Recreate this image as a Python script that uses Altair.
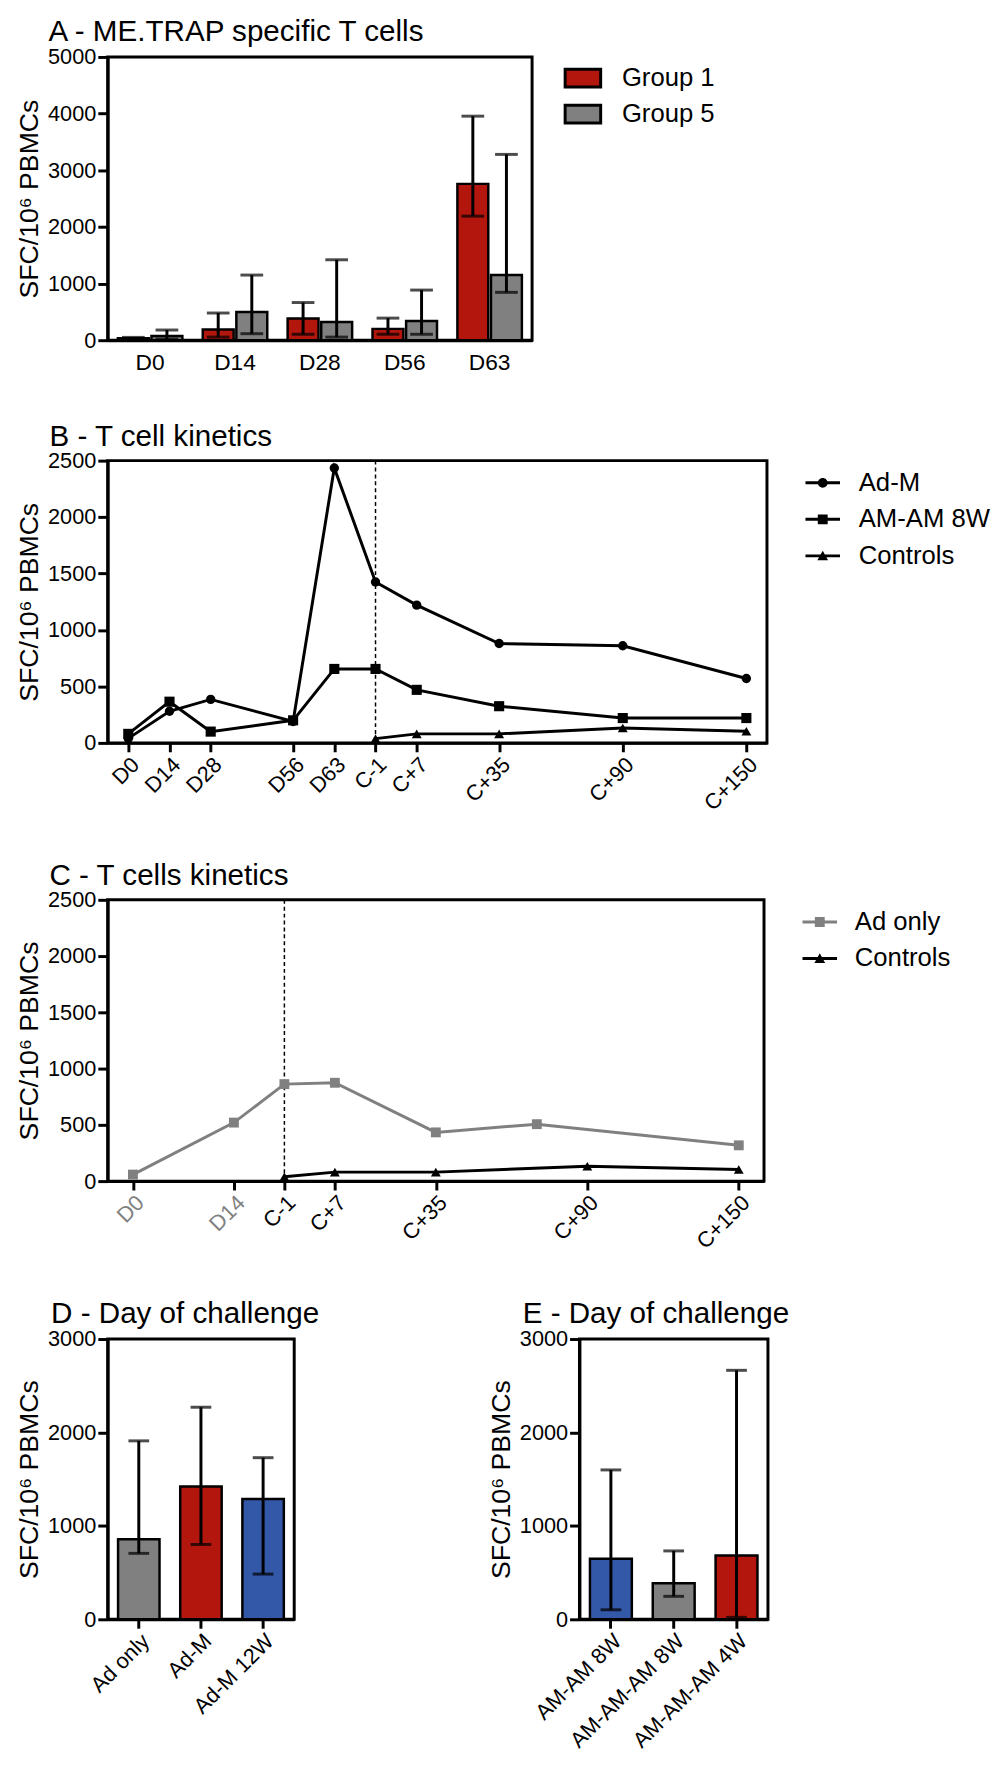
import json
import altair as alt
import pandas as pd

FONT = "Liberation Sans"
RED = "#B2160D"
GRAY = "#808080"
BLUE = "#3458A8"
BLACK = "#000000"
YTITLE = "SFC/10\u2076 PBMCs"

# ---------------- Panel A data ----------------
a_days = ["D0", "D14", "D28", "D56", "D63"]
a_groups = ["Group 1", "Group 5"]
a_g1_mean = [35, 190, 385, 200, 2760]
a_g1_low = [20, 55, 105, 105, 2190]
a_g1_high = [50, 480, 665, 390, 3955]
a_g5_mean = [75, 500, 320, 340, 1150]
a_g5_low = [20, 115, 55, 105, 845]
a_g5_high = [180, 1150, 1420, 885, 3280]
a_ticks = [0, 1000, 2000, 3000, 4000, 5000]

# ---------------- Panel B data ----------------
b_labels = ["D0", "D14", "D28", "D56", "D63", "C-1", "C+7", "C+35", "C+90", "C+150"]
b_slots = [0, 1, 2, 4, 5, 6, 7, 9, 12, 15]
b_series = ["Ad-M", "AM-AM 8W", "Controls"]
b_adm = [40, 280, 385, 190, 2435, 1425, 1220, 880, 860, 570]
b_amam = [80, 365, 100, 200, 655, 655, 470, 325, 220, 220]
b_ctrl_labels = ["C-1", "C+7", "C+35", "C+90", "C+150"]
b_ctrl = [38, 80, 80, 132, 104]
b_challenge = "C-1"

# ---------------- Panel C data ----------------
c_labels = ["D0", "D14", "C-1", "C+7", "C+35", "C+90", "C+150"]
c_slots = [0, 2, 3, 4, 6, 9, 12]
c_grey_labels = ["D0", "D14"]
c_series = ["Ad only", "Controls"]
c_adonly_slots = [0, 2, 3, 4, 6, 8, 12]
c_adonly = [58, 520, 862, 874, 433, 506, 318]
c_ctrl_labels = ["C-1", "C+7", "C+35", "C+90", "C+150"]
c_ctrl = [38, 80, 80, 132, 104]
c_challenge = "C-1"
kin_ticks = [0, 500, 1000, 1500, 2000, 2500]

# ---------------- Panel D / E data ----------------
d_groups = ["Ad only", "Ad-M", "Ad-M 12W"]
d_mean = [858, 1422, 1288]
d_low = [706, 801, 484]
d_high = [1910, 2270, 1730]
d_colors = [GRAY, RED, BLUE]

e_groups = ["AM-AM 8W", "AM-AM-AM 8W", "AM-AM-AM 4W"]
e_mean = [648, 387, 683]
e_low = [102, 246, 21]
e_high = [1599, 732, 2665]
e_colors = [BLUE, GRAY, RED]
de_ticks = [0, 1000, 2000, 3000]

# legend symbol paths (line with marker)
LINE = "M-1,-0.086L1,-0.086L1,0.086L-1,0.086Z"
P_CIRCLE = LINE + " M0.286,0A0.286,0.286,0,1,1,-0.286,0A0.286,0.286,0,1,1,0.286,0Z"
P_SQUARE = LINE + " M-0.286,-0.286L0.286,-0.286L0.286,0.286L-0.286,0.286Z"
P_TRI = LINE + " M0,-0.3L0.31,0.26L-0.31,0.26Z"

TITLE_SIZE = 30
LEG_SIZE = 26


def ttl(text, anchor, dx, offset):
    return alt.TitleParams(text, anchor=anchor, frame="group", dx=dx, offset=offset,
                           fontSize=TITLE_SIZE, font=FONT, fontWeight="normal", color=BLACK)


# ---------------- Panel A ----------------
rows = []
for i, d in enumerate(a_days):
    rows.append(dict(day=d, group=a_groups[0], mean=a_g1_mean[i], low=a_g1_low[i], high=a_g1_high[i]))
    rows.append(dict(day=d, group=a_groups[1], mean=a_g5_mean[i], low=a_g5_low[i], high=a_g5_high[i]))
df_a = pd.DataFrame(rows)

xa = alt.X("day:N", sort=a_days, title=None,
           scale=alt.Scale(paddingInner=0.24, paddingOuter=0.12),
           axis=alt.Axis(labelAngle=0, ticks=False, labelPadding=12, labelFontSize=23))
xoa = alt.XOffset("group:N", sort=a_groups, scale=alt.Scale(paddingInner=0.08))
ya_scale = alt.Scale(domain=[0, 5000], nice=False)
base_a = alt.Chart(df_a).encode(x=xa, xOffset=xoa)
bars_a = base_a.mark_bar(stroke=BLACK, strokeWidth=2.5).encode(
    y=alt.Y("mean:Q", scale=ya_scale, axis=alt.Axis(values=a_ticks, title=YTITLE, format="d")),
    color=alt.Color("group:N", sort=a_groups,
                    scale=alt.Scale(domain=a_groups, range=[RED, GRAY]),
                    legend=alt.Legend(title=None, orient="none", legendX=462, legendY=2, padding=0,
                                      symbolType="M-1,-0.5L1,-0.5L1,0.5L-1,0.5Z",
                                      symbolSize=1296, symbolStrokeColor=BLACK,
                                      symbolStrokeWidth=3, labelFontSize=LEG_SIZE,
                                      labelOffset=20, rowPadding=1.5)),
)
rule_a = base_a.mark_rule(color=BLACK, strokeWidth=3).encode(y=alt.Y("low:Q", scale=ya_scale), y2="high:Q")
caph_a = base_a.mark_tick(color=BLACK, size=23, thickness=3).encode(y=alt.Y("high:Q", scale=ya_scale))
capl_a = base_a.mark_tick(color=BLACK, size=23, thickness=3).encode(y=alt.Y("low:Q", scale=ya_scale))
chart_a = alt.layer(bars_a, rule_a, caph_a, capl_a).properties(
    width=430, height=287,
    title=ttl("A - ME.TRAP specific T cells", "start", -60, -1),
)


# ---------------- kinetics panels ----------------
def label_expr(labels, slots):
    arr = [""] * (max(slots) + 1)
    for s, l in zip(slots, labels):
        arr[s] = l
    return json.dumps(arr) + "[datum.value]"


def kinetics(df, series, colors, shapes, sizes, paths, labels, slots, dash_slot,
             width, height, title, label_color, leg_x, leg_y, label_offset):
    xmax = max(slots)
    x = alt.X("slot:Q", title=None,
              scale=alt.Scale(domain=[-0.5, xmax + 0.5], nice=False, zero=False),
              axis=alt.Axis(values=slots, labelExpr=label_expr(labels, slots), labelAngle=-45,
                            tickSize=9, labelFlush=False, labelOverlap=False, labelFontSize=22,
                            labelColor=label_color))
    y = alt.Y("value:Q", scale=alt.Scale(domain=[0, 2500], nice=False),
              axis=alt.Axis(values=kin_ticks, title=YTITLE, format="d"))
    layers = []
    dash = alt.Chart(pd.DataFrame({"slot": [dash_slot]})).mark_rule(
        color=BLACK, strokeWidth=1.5, strokeDash=[4, 3]).encode(x=x)
    layers.append(dash)
    for s, col, shp, sz in zip(series, colors, shapes, sizes):
        sub = alt.Chart(df).transform_filter(alt.datum.series == s)
        layers.append(sub.mark_line(color=col, strokeWidth=3).encode(x=x, y=y))
        layers.append(sub.mark_point(shape=shp, filled=True, size=sz, color=col, opacity=1).encode(x=x, y=y))
    leg = alt.Legend(title=None, orient="none", legendX=leg_x, legendY=leg_y, padding=0,
                     symbolSize=1225, symbolOpacity=1, symbolStrokeWidth=0,
                     labelFontSize=LEG_SIZE, labelOffset=label_offset, rowPadding=6)
    legend_layer = alt.Chart(df).mark_point(filled=True, opacity=0, size=1225).encode(
        x=x, y=y,
        shape=alt.Shape("series:N", sort=series, scale=alt.Scale(domain=series, range=paths), legend=leg),
        color=alt.Color("series:N", sort=series, scale=alt.Scale(domain=series, range=colors), legend=leg),
    )
    layers.append(legend_layer)
    return alt.layer(*layers).properties(
        width=width, height=height,
        title=ttl(title, "start", -59, -2),
    )


slot_b = dict(zip(b_labels, b_slots))
rows = []
for l, v in zip(b_labels, b_adm):
    rows.append(dict(series=b_series[0], slot=slot_b[l], value=v))
for l, v in zip(b_labels, b_amam):
    rows.append(dict(series=b_series[1], slot=slot_b[l], value=v))
for l, v in zip(b_ctrl_labels, b_ctrl):
    rows.append(dict(series=b_series[2], slot=slot_b[l], value=v))
df_b = pd.DataFrame(rows)

chart_b = kinetics(df_b, b_series, [BLACK, BLACK, BLACK], ["circle", "square", "triangle-up"],
                   [90, 105, 100], [P_CIRCLE, P_SQUARE, P_TRI], b_labels, b_slots,
                   slot_b[b_challenge], 668, 286, "B -  T cell kinetics", BLACK, 707, 5, 19)

slot_c = dict(zip(c_labels, c_slots))
rows = []
for s, v in zip(c_adonly_slots, c_adonly):
    rows.append(dict(series=c_series[0], slot=s, value=v))
for l, v in zip(c_ctrl_labels, c_ctrl):
    rows.append(dict(series=c_series[1], slot=slot_c[l], value=v))
df_c = pd.DataFrame(rows)
grey_slots = [slot_c[l] for l in c_grey_labels]
c_label_color = {"condition": {"test": "indexof(%s, datum.value) >= 0" % json.dumps(grey_slots),
                               "value": GRAY}, "value": BLACK}

chart_c = kinetics(df_c, c_series, [GRAY, BLACK], ["square", "triangle-up"],
                   [100, 100], [P_SQUARE, P_TRI], c_labels, c_slots,
                   slot_c[c_challenge], 665, 285, "C - T cells kinetics", c_label_color, 704, 5, 18)


# ---------------- bar panels D/E ----------------
def bar_panel(groups, mean, low, high, colors, title, width, height, tdx):
    df = pd.DataFrame({"g": groups, "mean": mean, "low": low, "high": high})
    x = alt.X("g:N", sort=groups, title=None,
              scale=alt.Scale(paddingInner=0.333, paddingOuter=0.167),
              axis=alt.Axis(labelAngle=-45, tickSize=9, labelFontSize=22, labelOverlap=False))
    ys = alt.Scale(domain=[0, 3000], nice=False)
    base = alt.Chart(df).encode(x=x)
    bars = base.mark_bar(stroke=BLACK, strokeWidth=2.5).encode(
        y=alt.Y("mean:Q", scale=ys, axis=alt.Axis(values=de_ticks, title=YTITLE, format="d")),
        color=alt.Color("g:N", sort=groups, scale=alt.Scale(domain=groups, range=colors), legend=None),
    )
    rule = base.mark_rule(color=BLACK, strokeWidth=3).encode(y=alt.Y("low:Q", scale=ys), y2="high:Q")
    caph = base.mark_tick(color=BLACK, size=21, thickness=3).encode(y=alt.Y("high:Q", scale=ys))
    capl = base.mark_tick(color=BLACK, size=21, thickness=3).encode(y=alt.Y("low:Q", scale=ys))
    return alt.layer(bars, rule, caph, capl).properties(
        width=width, height=height,
        title=ttl(title, "middle", tdx, -1),
    )


chart_d = bar_panel(d_groups, d_mean, d_low, d_high, d_colors, "D - Day of challenge", 189, 284, -16)
chart_e = bar_panel(e_groups, e_mean, e_low, e_high, e_colors, "E - Day of challenge", 191, 284, -18)

IND = dict(color="independent", shape="independent")
de = alt.hconcat(chart_d, chart_e, spacing=167).resolve_scale(**IND)
inner2 = alt.vconcat(chart_c, de, spacing=44).resolve_scale(**IND)
inner1 = alt.vconcat(chart_b, inner2, spacing=44).resolve_scale(**IND)
chart = alt.vconcat(chart_a, inner1, spacing=44).resolve_scale(**IND).properties(
    padding={"left": 6, "top": -4, "right": 0, "bottom": 0}
).configure(font=FONT).configure_view(
    stroke=BLACK, strokeWidth=3
).configure_axis(
    domainColor=BLACK, domainWidth=3, tickColor=BLACK, tickWidth=3, tickSize=10,
    labelColor=BLACK, labelFont=FONT, labelFontSize=22, titleFont=FONT, titleFontSize=27,
    titleFontWeight="normal", titleColor=BLACK, grid=False, labelPadding=2, titlePadding=4,
).configure_legend(
    labelFont=FONT, labelFontSize=LEG_SIZE, labelColor=BLACK, titleFont=FONT,
).configure_title(
    font=FONT, fontSize=TITLE_SIZE, fontWeight="normal", color=BLACK,
)

chart.save("out.html", embed_options={"renderer": "svg", "actions": False})
